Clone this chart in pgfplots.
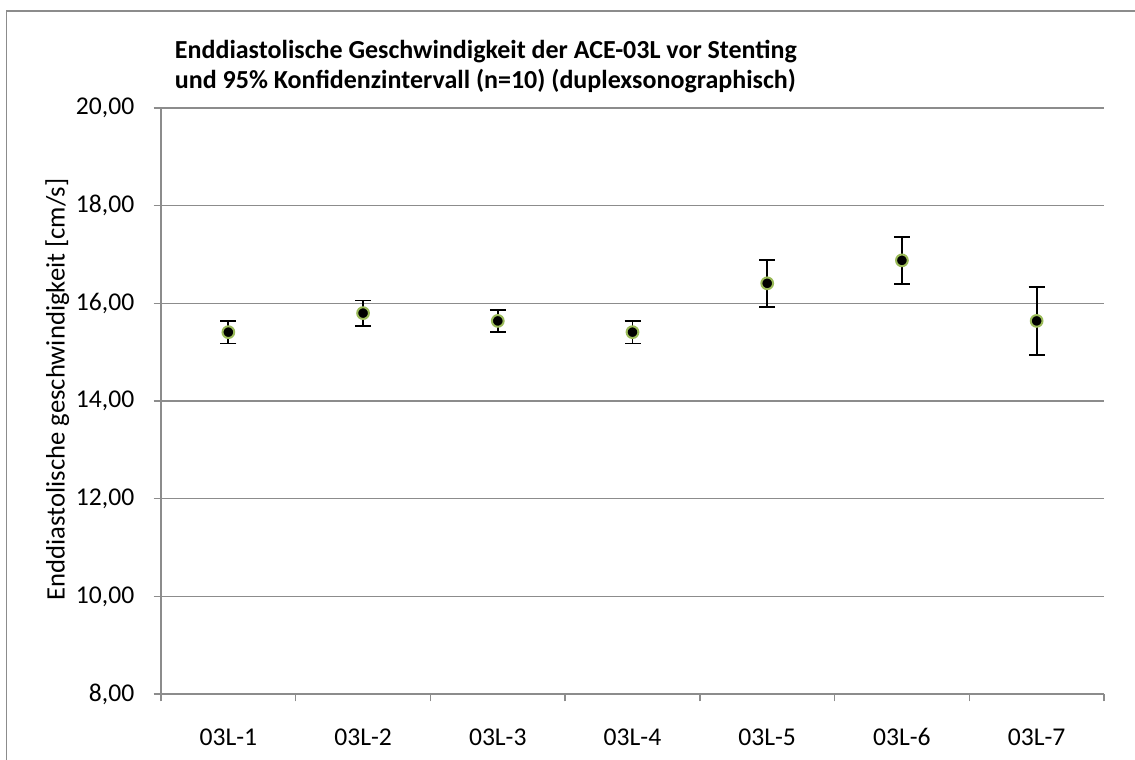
\documentclass[border=0pt]{standalone}
\usepackage{pgfplots}
\pgfplotsset{compat=1.18}
\usepackage{fontspec}
\setmainfont{Carlito}
\definecolor{gridgray}{HTML}{8C8C8C}
\definecolor{markgreen}{HTML}{9BBB59}
\begin{document}
\begin{tikzpicture}
\useasboundingbox (0,0) rectangle (851.25pt,-570pt);
\draw[gridgray, line width=1.4pt] (4.9pt,-8.25pt) rectangle (900pt,-700pt);
\node[anchor=base west, inner sep=0pt, font=\fontsize{19.5}{22}\selectfont\bfseries] at (131pt,-44pt) {Enddiastolische Geschwindigkeit der ACE-03L vor Stenting};
\node[anchor=base west, inner sep=0pt, font=\fontsize{19.5}{22}\selectfont\bfseries] at (131pt,-66.5pt) {und 95\% Konfidenzintervall (n=10) (duplexsonographisch)};
\begin{axis}[
  at={(120.75pt,-520.5pt)}, anchor=south west,
  scale only axis, width=707.25pt, height=439.5pt,
  xmin=-0.5, xmax=6.5, ymin=8, ymax=20,
  axis x line*=bottom, axis y line*=left,
  axis line style={gridgray, line width=1.1pt, -},
  xtick={0,1,2,3,4,5,6},
  xticklabels={03L-1,03L-2,03L-3,03L-4,03L-5,03L-6,03L-7},
  minor xtick={-0.5,0.5,1.5,2.5,3.5,4.5,5.5,6.5},
  major x tick style={draw=none},
  minor x tick style={gridgray, line width=1.1pt},
  minor tick length=5.5pt,
  ytick={8,10,...,20},
  major y tick style={gridgray, line width=1.1pt},
  major tick length=5.5pt,
  tick align=outside,
  ymajorgrids, grid style={gridgray, line width=1.1pt},
  ticklabel style={font=\fontsize{19.2}{21}\selectfont, black},
  xticklabel style={anchor=base, yshift=-33pt},
  yticklabel style={xshift=-11pt},
  yticklabel={\pgfmathprintnumber[fixed, fixed zerofill, precision=2, use comma, assume math mode=true]{\tick}},
  ylabel={Enddiastolische geschwindigkeit [cm/s]},
  ylabel style={font=\fontsize{20}{22}\selectfont, at={(axis description cs:-0.110,0.52)}, rotate=0, anchor=center},
  clip=false,
]
\addplot[only marks, mark=*, mark size=4.4pt,
  mark options={fill=black, draw=markgreen, line width=1.5pt},
  error bars/.cd, y dir=both, y explicit,
  error bar style={black, line width=1.3pt},
  error mark options={rotate=90, mark size=6pt, black, line width=1.3pt}]
coordinates {
(0,15.41) +- (0,0.23)
(1,15.80) +- (0,0.26)
(2,15.64) +- (0,0.22)
(3,15.41) +- (0,0.23)
(4,16.41) +- (0,0.48)
(5,16.88) +- (0,0.48)
(6,15.64) +- (0,0.70)
};
\end{axis}
\end{tikzpicture}
\end{document}
